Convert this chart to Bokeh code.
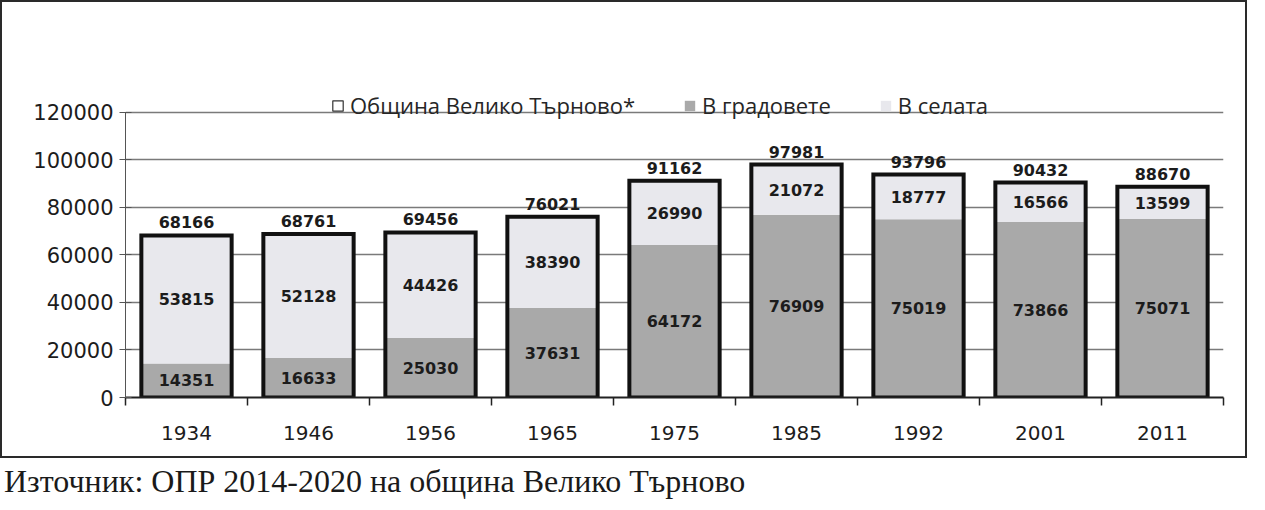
from bokeh.plotting import figure
from bokeh.models import (Range1d, LinearAxis, FixedTicker,
                          ColumnDataSource, Legend, LegendItem, Div)
from bokeh.layouts import column
from bokeh.embed import file_html
from bokeh.resources import INLINE
from bokeh.core.properties import value

# ---------------- data ----------------
years = ["1934", "1946", "1956", "1965", "1975", "1985", "1992", "2001", "2011"]
totals = [68166, 68761, 69456, 76021, 91162, 97981, 93796, 90432, 88670]
towns = [14351, 16633, 25030, 37631, 64172, 76909, 75019, 73866, 75071]
villages = [53815, 52128, 44426, 38390, 26990, 21072, 18777, 16566, 13599]
y_ticks = [0, 20000, 40000, 60000, 80000, 100000, 120000]
legend_labels = ["Община Велико Търново*", "В градовете", "В селата"]
source_note = "Източник: ОПР 2014-2020 на община Велико Търново"

FONT = "DejaVu Sans"
TOWN_COLOR = "#a9a9a9"
VILLAGE_COLOR = "#e8e8ed"
TEXT = "#1c1c1c"

n = len(years)
centers = [i + 0.5 for i in range(n)]          # category slot centres
edges = list(range(n + 1))                      # category slot boundaries

src = ColumnDataSource(dict(
    x=centers,
    total=totals,
    town=towns,
    village=villages,
    town_mid=[t / 2 for t in towns],
    village_mid=[t + v / 2 for t, v in zip(towns, villages)],
    town_lbl=[str(t) for t in towns],
    village_lbl=[str(v) for v in villages],
    total_lbl=[str(t) for t in totals],
))

Y_TOP = 130000   # head-room above the last gridline for the legend

p = figure(x_range=Range1d(0, n),
           y_range=Range1d(y_ticks[0], Y_TOP),
           width=1247, height=458,
           output_backend="svg", toolbar_location=None,
           x_axis_location=None,
           min_border_left=123, min_border_right=26,
           min_border_top=86, min_border_bottom=63)
p.outline_line_color = None
p.background_fill_color = "white"
p.border_fill_color = "white"
p.styles = {"border": "2px solid #2a2a2a"}

# y axis
yax = p.yaxis[0]
yax.ticker = FixedTicker(ticks=y_ticks)
yax.bounds = (y_ticks[0], y_ticks[-1])
yax.formatter.use_scientific = False
yax.major_label_text_font = FONT
yax.major_label_text_font_size = "21px"
yax.major_label_text_color = TEXT
yax.major_tick_in = 6
yax.major_tick_out = 6
yax.minor_tick_line_color = None
yax.axis_line_color = "#555555"
yax.major_tick_line_color = "#555555"
yax.major_label_standoff = 6

p.ygrid.ticker = FixedTicker(ticks=y_ticks)
p.ygrid.grid_line_color = "#7a7a7a"
p.ygrid.grid_line_width = 1.3
p.xgrid.grid_line_color = None

# x axis: labels at slot centres, tick marks at slot boundaries (minor ticks)
xax = LinearAxis(ticker=FixedTicker(ticks=centers, minor_ticks=edges),
                 major_label_overrides={c: y for c, y in zip(centers, years)},
                 axis_line_color="#222222", axis_line_width=2,
                 major_tick_line_color=None, major_tick_in=0, major_tick_out=0,
                 minor_tick_line_color="#222222", minor_tick_line_width=1.5,
                 minor_tick_in=0, minor_tick_out=8,
                 major_label_text_font=FONT,
                 major_label_text_font_size="20px",
                 major_label_text_color=TEXT,
                 major_label_standoff=20)
p.add_layout(xax, "below")

# bars
BW = 0.74
r_town = p.vbar(x="x", top="town", bottom=0, width=BW, source=src,
                fill_color=TOWN_COLOR, line_color=None)
r_vill = p.vbar(x="x", top="total", bottom="town", width=BW, source=src,
                fill_color=VILLAGE_COLOR, line_color=None)
p.vbar(x="x", top="total", bottom=0, width=BW, source=src,
       fill_color=None, line_color="#111111", line_width=4, line_join="miter")
# legend swatch for the total (zero-size, so it draws nothing in the plot)
r_total_leg = p.vbar(x=centers[:1], top=[0], bottom=[0], width=0,
                     fill_color="white", line_color="#333333", line_width=1.2)

lbl = dict(source=src, text_align="center", text_font=value(FONT),
           text_font_style="bold", text_font_size="16px", text_color=TEXT)
p.text(x="x", y="town_mid", text="town_lbl", text_baseline="middle", **lbl)
p.text(x="x", y="village_mid", text="village_lbl", text_baseline="middle", **lbl)
p.text(x="x", y="total", text="total_lbl", text_baseline="bottom", y_offset=-7, **lbl)

legend = Legend(items=[LegendItem(label=legend_labels[0], renderers=[r_total_leg]),
                       LegendItem(label=legend_labels[1], renderers=[r_town]),
                       LegendItem(label=legend_labels[2], renderers=[r_vill])],
                orientation="horizontal", location=(206, 277),
                glyph_width=13, glyph_height=13, spacing=48, label_standoff=6,
                label_text_font="Open Sans", label_text_font_size="22px",
                label_text_color="#262626",
                background_fill_alpha=0, border_line_color=None,
                padding=0, margin=0)
p.add_layout(legend, "center")

note = Div(text=source_note, width=1000, height=38,
           styles={"font-family": "Liberation Serif", "font-size": "32px",
                   "color": "#1a1a1a", "margin-left": "4px",
                   "white-space": "nowrap", "line-height": "36px"})

layout = column(p, note, spacing=0)
open("out.html", "w").write(file_html(layout, INLINE))
